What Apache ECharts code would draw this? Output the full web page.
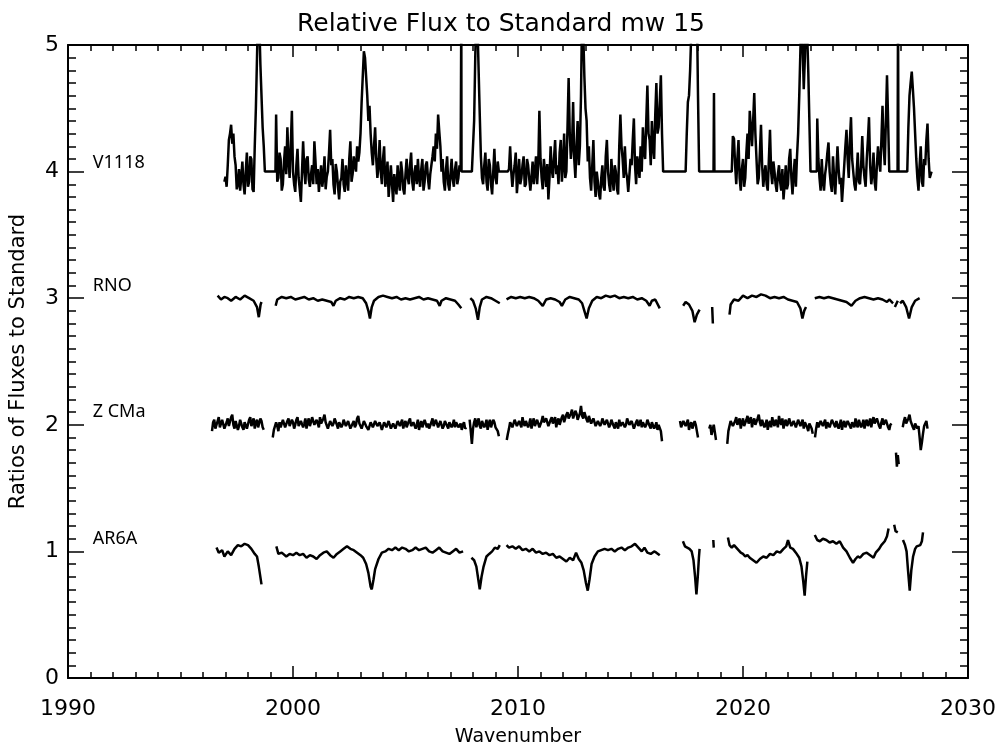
<!DOCTYPE html>
<html>
<head>
<meta charset="utf-8">
<script src="https://cdn.jsdelivr.net/npm/echarts@6/dist/echarts.min.js"></script>
<style>html,body{margin:0;padding:0;background:#fff}#c{width:1002px;height:752px}</style>
</head>
<body>
<div id="c"></div>
<script>
// ---------------- data ----------------
const STEP = 0.05;
const names = ['V1118', 'RNO', 'Z CMa', 'AR6A'];
const nameLabelX = 1991.1;
const nameLabelY = [4.07, 3.1, 2.1, 1.1];
const xTicks = [1990, 2000, 2010, 2020, 2030];
const yTicks = [0, 1, 2, 3, 4, 5];

// V1118: evenly sampled segments (start year, values every STEP)
const v1118Starts = [1996.95, 1999.25, 2007.95, 2009.55, 2017.45, 2019.5, 2023.3, 2027.3];
const v1118A = [3.92,3.96,3.88,4.05,4.25,4.3,4.37,4.22,4.3,4.12,4.05,3.86,3.9,4.02,3.85,3.95,4.08,3.9,3.82,4.0,
  4.15,3.88,3.92,4.12,4.1,3.86,3.84,4.2,4.5,4.9,5.3,5.2,4.85,4.6,4.35,4.2,4.0];
const v1118B = [4.45,3.92,3.95,4.15,4.1,3.85,3.9,4.08,4.2,3.98,4.35,4.1,3.95,4.2,4.48,4.0,3.9,3.84,4.05,4.18,
  3.95,3.86,3.76,4.0,4.24,4.02,3.9,4.1,4.12,3.94,3.88,3.98,4.05,3.9,4.24,4.08,3.9,4.02,3.84,3.95,
  4.05,3.88,3.95,4.12,3.86,3.96,4.0,4.15,4.33,4.05,4.1,3.9,3.82,4.06,4.0,3.88,3.78,3.92,3.95,4.1,
  3.9,3.84,4.05,3.95,3.85,4.1,4.24,3.92,3.98,4.12,4.05,4.0,4.2,4.08,4.15,4.3,4.55,4.75,4.95,4.9,
  4.75,4.6,4.4,4.52,4.3,4.15,4.05,4.2,4.35,4.1,3.95,4.05,4.25,4.0,3.9,4.1,4.2,3.88,3.95,4.08,
  3.8,3.92,4.05,3.9,3.76,3.98,3.9,3.82,4.05,3.92,3.85,4.08,4.0,3.86,3.82,3.98,4.1,3.95,3.9,4.05,
  4.15,3.92,3.85,4.0,4.05,3.9,4.1,3.95,3.88,4.02,4.1,3.85,3.92,4.05,4.08,3.94,3.86,3.98,4.05,4.12,
  4.2,4.08,4.3,4.18,4.45,4.32,4.2,4.0,4.1,3.92,3.85,4.02,4.12,3.9,3.85,3.98,4.1,3.94,3.88,4.02,
  4.08,3.9,3.95,4.05,4.0];
const v1118C = [4.0,4.2,4.4,4.9,5.3,5.15,4.8,4.45,4.12,3.95,3.9,4.05,4.15,3.92,3.85,4.1,4.05,3.9,3.82,4.0,
  4.18,3.95,3.9,4.08,4.0];
const v1118D = [4.0,4.02,4.2,4.0,3.88,3.98,4.05,4.15,3.83,3.95,4.1,3.9,3.95,4.05,4.12,3.88,3.9,4.1,4.05,3.94,
  3.85,3.96,4.08,3.9,4.0,4.12,3.9,4.05,4.48,4.1,3.95,3.86,4.1,4.0,3.88,4.06,3.78,3.95,4.2,4.02,
  3.95,4.1,4.25,3.98,4.05,3.9,4.15,4.25,3.92,4.05,4.3,3.95,4.0,4.35,4.74,4.3,4.1,4.2,4.55,4.1,
  3.95,4.2,4.4,4.05,4.2,4.6,5.3,5.1,4.75,4.5,4.4,4.08,4.2,3.95,3.85,4.05,4.25,3.92,3.8,4.0,
  3.92,3.82,3.78,3.95,4.05,3.88,3.85,4.12,4.25,4.0,3.9,3.84,4.1,3.95,3.85,4.05,4.0,3.86,3.82,4.2,
  4.45,4.2,4.1,3.95,4.2,4.0,3.95,3.84,3.85,4.1,4.05,4.25,4.42,4.05,3.9,4.12,4.05,3.95,4.2,4.0,
  4.35,4.15,4.1,4.4,4.68,4.3,4.25,4.05,4.4,4.2,4.1,4.45,4.7,4.3,4.35,4.55,4.76,4.3,4.0];
const v1118E = [4.0,4.3,4.55,4.6,4.8,5.1,5.3,5.25,5.1,5.2,5.3,4.6,4.0];
const v1118F = [4.0,4.28,4.26,4.05,3.9,4.1,4.25,3.95,3.85,4.02,4.1,3.88,3.95,4.15,4.3,4.1,4.48,4.35,4.2,4.4,
  4.62,4.3,4.1,3.9,3.95,4.15,4.37,4.05,3.88,3.98,4.05,3.9,3.85,4.1,4.33,4.0,3.9,4.08,4.0,3.9,
  3.84,3.98,4.05,3.92,3.85,4.02,3.78,3.9,4.05,3.86,3.9,4.1,4.18,3.95,3.82,3.98,4.1,3.88,4.12,4.3,
  4.6,4.95,5.3,5.0,4.65,4.9,5.3,5.1,4.8,4.4,4.0];
const v1118G = [4.42,4.1,3.95,3.85,4.1,3.92,3.85,3.98,4.05,4.15,4.23,4.0,3.9,3.84,4.12,3.95,3.82,4.0,4.2,4.02,
  3.9,3.95,3.76,3.9,4.05,4.2,4.33,4.1,3.95,4.25,4.43,4.1,4.0,3.9,3.85,3.98,4.15,3.92,3.9,4.05,
  4.28,4.05,3.95,3.88,4.1,4.25,4.43,4.05,3.9,3.98,4.15,3.92,3.85,4.05,4.2,4.08,4.0,4.25,4.52,4.2,
  4.05,4.4,4.76,4.4,4.0];
const v1118H = [4.0,4.35,4.6,4.7,4.79,4.65,4.5,4.3,4.1,3.95,3.85,4.05,4.2,3.92,3.88,4.1,4.05,4.25,4.38,4.1,3.95];
// V1118: flat (missing) stretches and single spikes as [year, value]
const v1118Extra = [[1999.22,4.0],[2007.47,4.0],[2007.48,5.3],[2007.49,4.0],
  [2018.69,4.0],[2018.71,4.62],[2018.73,4.0],[2023.28,4.0],
  [2026.87,4.0],[2026.89,5.3],[2026.91,4.0],[2028.38,4.0]];

// RNO segments as [year, value]
const rno1 = [[1996.65,3.02],[1996.8,2.99],[1996.95,3.01],[1997.1,3.0],[1997.25,2.98],[1997.45,3.01],[1997.65,2.99],[1997.85,3.02],[1998.05,3.0],[1998.25,2.98],[1998.4,2.93],[1998.48,2.85],[1998.56,2.95],[1998.6,2.97]];
const rno2 = [[1999.23,2.94],[1999.3,2.99],[1999.5,3.01],[1999.7,3.0],[1999.9,3.01],[2000.1,2.99],[2000.3,3.0],[2000.5,3.01],[2000.7,2.99],[2000.9,3.0],[2001.1,2.98],[2001.3,2.99],[2001.5,2.98],[2001.7,2.97],[2001.8,2.94],[2001.9,2.98],[2002.1,3.0],[2002.3,2.99],[2002.5,3.01],[2002.7,3.0],[2002.9,3.01],[2003.1,3.0],[2003.25,2.96],[2003.35,2.9],[2003.42,2.84],[2003.5,2.93],[2003.6,2.98],[2003.8,3.01],[2004.0,3.02],[2004.2,3.01],[2004.4,3.0],[2004.6,3.01],[2004.8,2.99],[2005.0,3.0],[2005.2,2.99],[2005.4,3.0],[2005.6,3.01],[2005.8,2.99],[2006.0,3.0],[2006.2,2.99],[2006.4,2.98],[2006.52,2.94],[2006.6,2.98],[2006.8,3.0],[2007.0,2.99],[2007.2,2.98],[2007.35,2.95],[2007.48,2.92]];
const rno3 = [[2007.88,3.0],[2008.0,2.98],[2008.12,2.92],[2008.22,2.83],[2008.3,2.93],[2008.4,2.99],[2008.6,3.01],[2008.8,3.0],[2009.0,2.98],[2009.19,2.96]];
const rno4 = [[2009.49,2.99],[2009.7,3.01],[2009.9,3.0],[2010.1,3.01],[2010.3,3.0],[2010.5,3.01],[2010.7,3.0],[2010.9,2.98],[2011.1,2.94],[2011.25,2.99],[2011.45,3.0],[2011.65,2.99],[2011.85,2.97],[2011.95,2.94],[2012.1,2.99],[2012.3,3.01],[2012.5,3.0],[2012.7,2.99],[2012.85,2.96],[2012.95,2.9],[2013.05,2.84],[2013.15,2.92],[2013.3,2.98],[2013.5,3.01],[2013.7,3.0],[2013.9,3.02],[2014.1,3.01],[2014.3,3.02],[2014.5,3.0],[2014.7,3.01],[2014.9,3.0],[2015.1,3.01],[2015.3,2.99],[2015.5,3.0],[2015.7,2.98],[2015.85,2.94],[2015.95,2.98],[2016.1,2.99],[2016.3,2.92]];
const rno5 = [[2017.34,2.94],[2017.45,2.97],[2017.6,2.95],[2017.75,2.9],[2017.85,2.81],[2017.95,2.87],[2018.07,2.91]];
const rno6 = [[2018.63,2.93],[2018.66,2.8]];
const rno7 = [[2019.4,2.87],[2019.45,2.95],[2019.6,2.99],[2019.8,2.98],[2020.0,3.02],[2020.2,3.0],[2020.4,3.02],[2020.6,3.01],[2020.8,3.03],[2021.0,3.02],[2021.2,3.0],[2021.4,3.01],[2021.6,3.0],[2021.8,3.01],[2022.0,2.99],[2022.2,2.98],[2022.4,2.97],[2022.55,2.92],[2022.64,2.84],[2022.72,2.9],[2022.8,2.93]];
const rno8 = [[2023.19,3.0],[2023.4,3.01],[2023.6,3.0],[2023.8,3.01],[2024.0,3.0],[2024.2,2.99],[2024.4,2.98],[2024.6,2.97],[2024.82,2.94],[2025.0,2.98],[2025.2,3.0],[2025.4,3.01],[2025.6,3.0],[2025.8,2.99],[2026.0,3.0],[2026.2,2.99],[2026.4,2.97],[2026.5,2.99],[2026.67,2.96]];
const rno9 = [[2026.75,2.93],[2026.88,2.98]];
const rno10 = [[2026.98,2.96],[2027.1,2.98],[2027.25,2.93],[2027.38,2.84],[2027.5,2.93],[2027.65,2.98],[2027.85,3.0]];

// Z CMa: evenly sampled segments (start year, values every STEP)
const zcmaStarts = [1996.4, 1999.1, 2007.85, 2009.5, 2017.2, 2018.5, 2019.3, 2023.2, 2027.1];
const zcmaA = [1.95,2.02,2.04,1.97,1.98,2.03,2.06,1.98,1.99,2.04,2.03,1.97,1.96,2.02,2.05,1.99,2.0,2.06,2.08,2.0,
  1.97,2.03,2.02,1.96,1.99,2.04,2.05,1.98,1.96,2.02,2.03,1.97,1.98,2.04,2.06,1.99,2.0,2.05,1.97,2.02,
  2.04,1.98,1.99,2.05,2.03,1.98,1.96];
const zcmaB = [1.90,1.96,1.95,2.02,1.99,1.95,2.02,1.98,1.97,2.04,2.03,1.98,1.99,2.03,2.05,1.99,1.98,2.04,2.02,1.97,
  2.00,2.04,2.06,1.99,1.98,2.03,2.04,1.98,2.01,2.05,1.97,2.02,2.05,1.99,2.02,2.06,2.07,2.0,1.99,2.04,
  2.03,1.98,2.06,2.01,2.0,2.05,2.08,2.02,2.02,1.97,1.98,2.03,2.04,1.99,2.01,2.05,2.06,2.0,1.97,2.02,
  2.03,1.98,2.0,2.04,2.05,1.99,1.98,2.03,2.02,1.97,1.96,2.01,2.03,1.98,2.0,2.05,2.07,2.01,2.02,1.97,
  1.98,2.03,2.04,1.99,2.0,1.96,1.97,2.02,2.02,1.98,1.99,2.03,2.04,1.99,1.98,2.02,2.01,1.96,1.97,2.02,
  2.03,1.98,1.99,2.03,2.02,1.97,1.96,2.01,2.01,1.97,1.98,2.03,2.04,1.99,2.0,2.04,1.97,2.01,2.03,1.98,
  1.99,2.03,2.05,1.99,1.98,2.02,2.02,1.97,2.0,2.04,1.96,2.0,2.03,1.98,1.99,2.04,2.04,1.98,2.01,1.97,
  1.97,2.02,2.05,1.99,2.0,2.04,2.03,1.98,1.98,2.03,2.02,1.97,1.99,2.03,2.04,1.99,1.97,2.02,2.02,1.98,
  2.0,2.04,1.98,2.02,2.03,1.98,1.99,2.01,1.96,2.0,2.02,1.97,1.98];
const zcmaC = [2.04,1.95,1.85,1.97,2.02,2.05,1.98,2.02,2.05,1.99,1.97,2.03,2.03,1.98,2.0,2.04,1.96,2.01,2.04,1.98,
  1.99,2.04,2.02,1.98,1.97,1.95,1.91];
const zcmaD = [1.88,1.93,1.97,2.02,2.03,1.98,1.99,2.04,2.05,1.99,1.98,2.03,2.02,1.98,2.06,2.01,1.99,2.03,2.04,1.98,
  2.01,2.05,1.97,2.02,2.05,1.99,2.0,2.04,2.03,1.98,1.98,2.03,2.07,2.02,2.01,2.05,2.04,1.99,1.99,2.04,
  2.06,2.01,2.02,2.06,1.98,2.03,2.05,2.0,2.0,2.06,2.08,2.02,2.03,2.08,2.1,2.05,2.04,2.09,2.12,2.05,
  2.06,2.11,2.09,2.04,2.03,2.09,2.15,2.07,2.05,2.1,2.1,2.04,2.02,2.07,2.07,2.01,2.0,2.05,2.05,1.99,
  1.98,2.03,2.04,1.99,2.01,2.05,2.06,2.0,1.99,2.04,2.03,1.98,2.0,2.04,2.05,1.99,1.97,2.02,2.02,1.97,
  2.04,1.99,1.98,2.02,2.03,1.98,2.0,2.05,2.06,2.0,1.99,2.03,2.02,1.97,1.97,2.02,2.04,1.99,2.01,2.04,
  1.98,2.02,2.03,1.98,2.0,2.04,2.05,1.99,1.97,2.02,2.02,1.97,1.99,2.02,1.96,2.0,2.01,1.95,1.87];
const zcmaE = [2.03,1.98,1.97,2.03,2.04,1.99,2.0,2.04,1.96,2.0,2.02,1.97,1.98,2.03,2.0,1.95,1.9];
const zcmaF = [1.97,2.0,1.92,1.96,2.0,1.94,1.88];
const zcmaG = [1.85,1.95,1.99,2.03,2.04,1.99,1.98,2.03,2.06,2.0,2.01,2.05,1.97,2.02,2.05,1.99,2.0,2.04,2.07,2.01,
  2.02,2.06,1.98,2.03,2.05,2.0,2.01,2.05,2.08,2.02,1.99,2.04,2.04,1.98,2.0,2.04,1.96,2.01,2.03,1.98,
  2.06,2.01,1.99,2.04,2.02,1.98,2.07,2.02,2.0,2.05,1.97,2.02,2.04,1.99,2.01,2.05,2.05,1.99,1.98,2.03,
  2.03,1.98,1.99,2.04,2.05,1.99,2.0,2.04,1.97,2.02,2.03,1.98,1.95,2.01,2.0,1.97,1.93];
const zcmaH = [1.90,1.97,2.02,1.98,1.98,2.03,2.04,1.99,2.0,2.04,1.97,2.02,2.03,1.98,1.99,2.04,2.05,2.0,1.98,2.03,
  2.02,1.97,2.0,2.04,1.96,2.01,2.03,1.98,1.99,2.03,2.04,1.99,1.97,2.02,2.02,1.98,2.05,2.0,1.98,2.04,
  2.03,1.98,2.0,2.04,1.97,2.02,2.04,1.99,2.01,2.05,1.98,2.03,2.06,2.01,2.0,2.05,2.04,1.99,1.97,2.02,
  2.05,2.0,1.99,2.04,2.03,1.98,1.96,2.0,2.01];
const zcmaI = [1.98,2.03,2.06,2.01,2.0,2.05,2.08,2.03,2.03,1.98,1.96,2.01,2.02,1.97,1.99,1.9,1.80,1.86,1.93,1.99,
  2.0,2.03,1.97];
const zcmaLow = [[2026.8,1.78],[2026.84,1.67],[2026.88,1.76],[2026.92,1.69]];

// AR6A segments as [year, value]
const ar1 = [[1996.6,1.03],[1996.7,0.99],[1996.85,1.01],[1996.95,0.96],[1997.1,1.0],[1997.25,0.97],[1997.4,1.02],[1997.55,1.05],[1997.7,1.04],[1997.85,1.06],[1998.0,1.05],[1998.15,1.02],[1998.3,0.98],[1998.4,0.96],[1998.48,0.88],[1998.6,0.74]];
const ar2 = [[1999.26,1.04],[1999.35,0.98],[1999.5,0.99],[1999.7,0.96],[1999.85,0.98],[2000.0,0.97],[2000.15,0.99],[2000.3,0.97],[2000.45,0.98],[2000.6,0.95],[2000.75,0.97],[2000.9,0.96],[2001.05,0.94],[2001.2,0.97],[2001.35,0.99],[2001.5,1.0],[2001.65,0.97],[2001.8,0.95],[2001.95,0.98],[2002.1,1.0],[2002.25,1.02],[2002.4,1.04],[2002.55,1.02],[2002.7,1.01],[2002.85,0.99],[2003.0,0.97],[2003.12,0.95],[2003.25,0.9],[2003.35,0.83],[2003.45,0.72],[2003.5,0.70],[2003.58,0.78],[2003.65,0.86],[2003.8,0.94],[2003.95,0.99],[2004.1,1.0],[2004.25,1.02],[2004.4,1.01],[2004.55,1.03],[2004.7,1.01],[2004.85,1.03],[2005.0,1.02],[2005.15,1.0],[2005.3,1.01],[2005.45,1.03],[2005.6,1.01],[2005.75,1.02],[2005.9,1.03],[2006.05,1.0],[2006.2,0.99],[2006.35,1.01],[2006.5,1.03],[2006.65,1.0],[2006.8,0.99],[2006.95,0.98],[2007.1,1.0],[2007.25,1.02],[2007.4,0.99],[2007.56,1.0]];
const ar3 = [[2007.93,0.95],[2008.05,0.93],[2008.15,0.88],[2008.25,0.76],[2008.3,0.70],[2008.38,0.8],[2008.47,0.88],[2008.6,0.96],[2008.72,0.98],[2008.85,1.0],[2008.97,1.03],[2009.1,1.02],[2009.19,1.05]];
const ar4 = [[2009.49,1.05],[2009.6,1.03],[2009.75,1.04],[2009.9,1.02],[2010.05,1.04],[2010.2,1.01],[2010.35,1.02],[2010.5,1.0],[2010.65,1.02],[2010.8,0.99],[2010.95,1.0],[2011.1,0.98],[2011.25,0.99],[2011.4,0.97],[2011.55,0.98],[2011.7,0.95],[2011.85,0.96],[2012.0,0.94],[2012.15,0.92],[2012.3,0.95],[2012.45,0.93],[2012.58,0.99],[2012.7,0.94],[2012.82,0.91],[2012.92,0.85],[2013.02,0.75],[2013.1,0.69],[2013.18,0.78],[2013.27,0.9],[2013.4,0.96],[2013.55,1.0],[2013.7,1.01],[2013.85,1.02],[2014.0,1.01],[2014.15,1.02],[2014.3,1.0],[2014.45,1.02],[2014.6,1.03],[2014.75,1.01],[2014.9,1.03],[2015.05,1.04],[2015.2,1.06],[2015.35,1.03],[2015.5,1.0],[2015.62,1.03],[2015.75,0.99],[2015.9,0.98],[2016.05,1.0],[2016.15,0.99],[2016.3,0.97]];
const ar5 = [[2017.33,1.08],[2017.42,1.04],[2017.5,1.05],[2017.62,1.02],[2017.72,1.0],[2017.8,0.93],[2017.87,0.8],[2017.93,0.66],[2017.99,0.8],[2018.04,0.95],[2018.07,1.02]];
const ar6 = [[2018.68,1.09],[2018.7,1.03]];
const ar7 = [[2019.33,1.11],[2019.4,1.05],[2019.5,1.03],[2019.6,1.05],[2019.7,1.03],[2019.8,1.01],[2019.9,0.99],[2020.0,0.98],[2020.1,0.96],[2020.2,0.97],[2020.3,0.95],[2020.45,0.93],[2020.6,0.91],[2020.75,0.94],[2020.9,0.96],[2021.05,0.95],[2021.2,0.98],[2021.35,0.97],[2021.5,1.0],[2021.65,0.99],[2021.8,1.02],[2021.92,1.04],[2022.0,1.09],[2022.1,1.03],[2022.22,1.02],[2022.35,0.99],[2022.5,0.95],[2022.6,0.88],[2022.68,0.76],[2022.74,0.65],[2022.8,0.8],[2022.86,0.92]];
const ar8 = [[2023.19,1.13],[2023.3,1.09],[2023.42,1.08],[2023.55,1.1],[2023.7,1.09],[2023.85,1.07],[2024.0,1.08],[2024.15,1.06],[2024.3,1.08],[2024.45,1.03],[2024.6,1.0],[2024.75,0.95],[2024.89,0.91],[2025.0,0.94],[2025.1,0.96],[2025.2,0.95],[2025.35,0.98],[2025.5,0.99],[2025.65,0.97],[2025.8,0.95],[2025.9,0.99],[2026.05,1.02],[2026.15,1.05],[2026.3,1.08],[2026.4,1.12],[2026.47,1.18]];
const ar9 = [[2026.72,1.21],[2026.78,1.16],[2026.88,1.15]];
const ar10 = [[2027.11,1.09],[2027.2,1.05],[2027.27,1.0],[2027.33,0.86],[2027.41,0.69],[2027.48,0.85],[2027.56,0.96],[2027.65,1.02],[2027.72,1.04],[2027.8,1.03],[2027.88,1.05],[2027.95,1.08],[2028.0,1.15]];

// ---------------- build ----------------
function stepped(start, ys) {
  return ys.map((y, i) => [Math.round((start + i * STEP) * 1000) / 1000, y]);
}
function joinGaps(segs) {
  const out = [];
  segs.forEach((s, k) => { if (k) out.push(null); s.forEach(p => out.push(p)); });
  return out;
}
const v1118Data = [v1118A, v1118B, v1118C, v1118D, v1118E, v1118F, v1118G, v1118H]
  .map((ys, k) => stepped(v1118Starts[k], ys)).flat().concat(v1118Extra)
  .sort((a, b) => a[0] - b[0]);
const rnoData = joinGaps([rno1, rno2, rno3, rno4, rno5, rno6, rno7, rno8, rno9, rno10]);
const zSegs = [zcmaA, zcmaB, zcmaC, zcmaD, zcmaE, zcmaF, zcmaG, zcmaH].map((ys, k) => stepped(zcmaStarts[k], ys));
zSegs.push(zcmaLow);
zSegs.push(stepped(zcmaStarts[8], zcmaI));
const zcmaData = joinGaps(zSegs);
const arData = joinGaps([ar1, ar2, ar3, ar4, ar5, ar6, ar7, ar8, ar9, ar10]);

const chart = echarts.init(document.getElementById('c'), null, { renderer: 'canvas' });
const tickFont = 'DejaVu Sans';
const lineSeries = (data) => ({
  type: 'line', data, showSymbol: false, symbol: 'none', connectNulls: false,
  lineStyle: { color: '#000', width: 2.5 }, clip: true, animation: false, silent: true,
  xAxisIndex: 0, yAxisIndex: 0
});
const axisCommon = {
  axisLine: { show: true, onZero: false, lineStyle: { color: '#000', width: 2 } },
  splitLine: { show: false },
};
const option = {
  backgroundColor: '#fff',
  animation: false,
  title: {
    text: 'Relative Flux to Standard mw 15', left: 'center', top: 7,
    textStyle: { fontFamily: tickFont, fontWeight: 'normal', fontSize: 25, color: '#000' }
  },
  grid: { left: 68, right: 34, top: 45, bottom: 67, containLabel: false },
  xAxis: [
    Object.assign({}, axisCommon, {
      type: 'value', min: xTicks[0], max: xTicks[xTicks.length - 1], interval: 10, position: 'bottom',
      axisTick: { show: true, inside: true, length: 12, lineStyle: { color: '#000', width: 1.5 } },
      minorTick: { show: true, splitNumber: 10, length: 6, lineStyle: { color: '#000', width: 1.5 } },
      axisLabel: { show: true, color: '#000', fontFamily: tickFont, fontSize: 22, margin: 20, formatter: v => String(v) },
      name: 'Wavenumber', nameLocation: 'middle', nameGap: 50,
      nameTextStyle: { color: '#000', fontFamily: tickFont, fontSize: 19 }
    }),
    Object.assign({}, axisCommon, {
      type: 'value', min: xTicks[0], max: xTicks[xTicks.length - 1], interval: 10, position: 'top',
      axisTick: { show: true, inside: true, length: 12, lineStyle: { color: '#000', width: 1.5 } },
      minorTick: { show: true, splitNumber: 10, length: 6, lineStyle: { color: '#000', width: 1.5 } },
      axisLabel: { show: false }
    })
  ],
  yAxis: [
    Object.assign({}, axisCommon, {
      type: 'value', min: yTicks[0], max: yTicks[yTicks.length - 1], interval: 1, position: 'left',
      axisTick: { show: true, inside: true, length: 16, lineStyle: { color: '#000', width: 1.5 } },
      minorTick: { show: true, splitNumber: 10, length: 8, lineStyle: { color: '#000', width: 1.5 } },
      axisLabel: { show: true, color: '#000', fontFamily: tickFont, fontSize: 22, margin: 9 },
      name: 'Ratios of Fluxes to Standard', nameLocation: 'middle', nameGap: 39, nameRotate: 90,
      nameTextStyle: { color: '#000', fontFamily: tickFont, fontSize: 21 }
    }),
    Object.assign({}, axisCommon, {
      type: 'value', min: yTicks[0], max: yTicks[yTicks.length - 1], interval: 1, position: 'right',
      axisTick: { show: true, inside: true, length: 16, lineStyle: { color: '#000', width: 1.5 } },
      minorTick: { show: true, splitNumber: 10, length: 8, lineStyle: { color: '#000', width: 1.5 } },
      axisLabel: { show: false }
    })
  ],
  series: [
    lineSeries(v1118Data),
    lineSeries(rnoData),
    lineSeries(zcmaData),
    lineSeries(arData),
    {
      type: 'scatter', symbolSize: 0, silent: true, animation: false,
      itemStyle: { color: '#000', opacity: 1 },
      data: names.map((n, i) => [nameLabelX, nameLabelY[i], n]),
      label: {
        show: true, position: 'right', distance: 0,
        formatter: p => p.data[2],
        color: '#000', opacity: 1, fontFamily: 'Noto Sans', fontSize: 18
      }
    }
  ]
};
chart.setOption(option);
</script>
</body>
</html>
